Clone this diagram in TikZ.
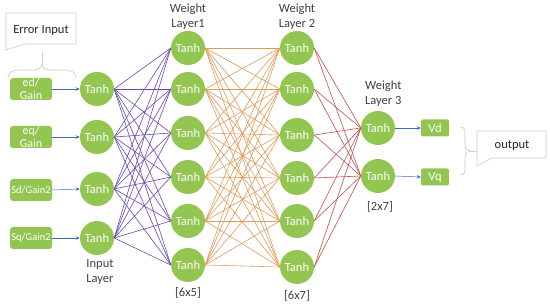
\documentclass[tikz,border=0pt]{standalone}
\usepackage{fontspec}
\setmainfont{Carlito}
\usetikzlibrary{arrows.meta,backgrounds}
\definecolor{tgreen}{RGB}{146,198,80}
\definecolor{epurple}{RGB}{105,72,182}
\definecolor{eorange}{RGB}{224,155,90}
\definecolor{ered}{RGB}{192,80,72}
\definecolor{eblue}{RGB}{68,100,200}
\definecolor{lgray}{RGB}{205,205,205}
\definecolor{tgray}{RGB}{64,64,64}
\begin{document}
\begin{tikzpicture}[x=1pt,y=-1pt,
 neuron/.style={circle,fill=tgreen,minimum size=34pt,inner sep=0pt,text=white,font=\fontsize{12.5}{14}\selectfont},
 inbox/.style={rounded corners=3pt,fill=tgreen,minimum width=42pt,minimum height=22pt,inner xsep=0pt,inner ysep=-2pt,text=white,align=center,font=\fontsize{12}{13}\selectfont},
 outbox/.style={rounded corners=2pt,fill=tgreen,minimum width=28pt,minimum height=17pt,inner sep=0pt,text=white,font=\fontsize{12.5}{14}\selectfont},
 lbl/.style={text=tgray,font=\fontsize{12.5}{15}\selectfont,inner sep=0pt},
 conn/.style={line width=0.6pt},
 arr/.style={eblue,line width=0.5pt,-{Stealth[length=4pt,width=3.5pt]}},
 callout/.style={draw=lgray,line width=0.7pt}]
\useasboundingbox (0,0) rectangle (550,307);
% input boxes
\node[inbox] (e1) at (31,89) {ed/\\Gain};
\node[inbox] (e2) at (31,137) {eq/\\Gain};
\node[inbox,font=\fontsize{10.5}{12}\selectfont] (e3) at (31,190) {Sd/Gain2};
\node[inbox,font=\fontsize{10.5}{12}\selectfont] (e4) at (31,238) {Sq/Gain2};
% input layer
\node[neuron] (in1) at (97,89) {Tanh};
\node[neuron] (in2) at (97,137) {Tanh};
\node[neuron] (in3) at (97,189) {Tanh};
\node[neuron] (in4) at (97,238) {Tanh};
% weight layer 1
\foreach \y [count=\j] in {48,89,133,177,221,265}
  \node[neuron] (a\j) at (188,\y) {Tanh};
% weight layer 2
\foreach \y [count=\j] in {48,89,135,178,221,267}
  \node[neuron] (b\j) at (297,\y) {Tanh};
% weight layer 3
\node[neuron] (c1) at (378,128) {Tanh};
\node[neuron] (c2) at (378,176) {Tanh};
% outputs
\node[outbox] (v1) at (435,128) {Vd};
\node[outbox] (v2) at (435,177) {Vq};
% connections
\begin{scope}[on background layer]
\foreach \i in {1,...,4}
  \foreach \j in {1,...,6}
    \draw[conn,epurple] (in\i.east) -- (a\j.west);
\foreach \i in {1,...,6}
  \foreach \j in {1,...,6}
    \draw[conn,eorange] (a\i.east) -- (b\j.west);
\foreach \i in {1,...,6}
  \foreach \j in {1,2}
    \draw[conn,ered] (b\i.east) -- (c\j.west);
\end{scope}
\foreach \i in {1,...,4}
  \draw[arr] (e\i.east) -- (in\i.west);
\draw[arr] (c1.east) -- (v1.west);
\draw[arr] (c2.east) -- (v2.west);
% labels
\node[lbl,align=center] (l1) at (188,16.5) {Weight\\Layer1};
\node[lbl,align=center] (l2) at (297,16.5) {Weight\\Layer 2};
\node[lbl,align=left,anchor=west] (l3) at (365,93.5) {Weight\\Layer 3};
\node[lbl,align=center] (l0) at (100,272) {Input\\Layer};
\node[lbl] (d1) at (188,293) {[6x5]};
\node[lbl] (d2) at (297,296) {[6x7]};
\node[lbl] (d3) at (380,207) {[2x7]};
% error input callout
\draw[callout] (6,13) -- (76,13) -- (76,44) -- (25,44) -- (6,50) -- cycle;
\node[lbl,text=black!85] (err) at (41,30) {Error Input};
\draw[callout] (42,52) -- (42,63);
\draw[callout] (8,79) .. controls (8,72) and (12,70) .. (22,70) -- (34,70) .. controls (39,70) and (42,67) .. (42,63)
  .. controls (42,67) and (45,70) .. (50,70) -- (62,70) .. controls (72,70) and (76,72) .. (76,79);
% output callout
\draw[callout] (477,131) -- (546,131) -- (546,158) -- (492,158) -- (477,166) -- cycle;
\node[lbl,text=black!85] (out) at (512,146) {output};
\draw[callout] (460,127) .. controls (465,127) and (465,130) .. (465,136) -- (465,144) .. controls (465,149) and (467,151) .. (470,151)
  .. controls (467,151) and (465,153) .. (465,158) -- (465,166) .. controls (465,172) and (465,175) .. (460,175);
\draw[callout] (470,151) -- (477,151);
\end{tikzpicture}
\end{document}
